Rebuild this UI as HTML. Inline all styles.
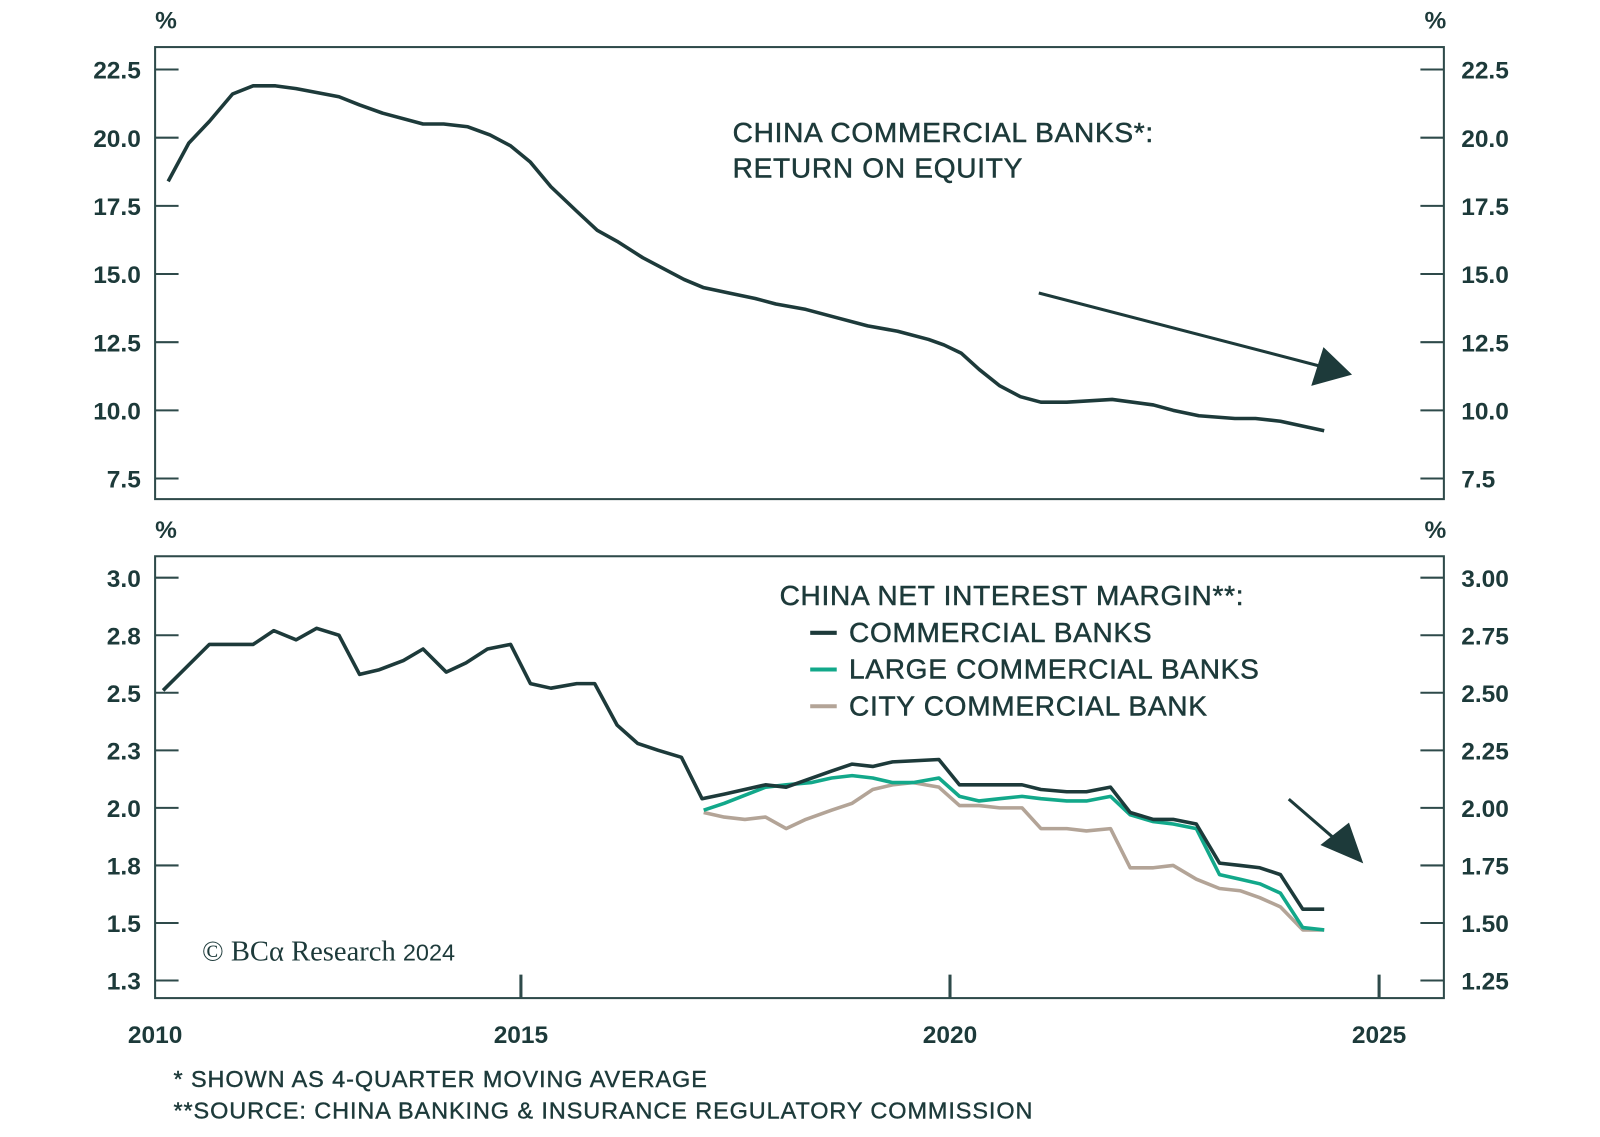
<!DOCTYPE html>
<html><head><meta charset="utf-8"><style>
html,body{margin:0;padding:0;background:#fff;}
svg{display:block;}
text{font-family:"Liberation Sans",sans-serif;fill:#1d3a3a;}
.tk{font-size:24px;font-weight:bold;}
.ann{font-size:27.5px;letter-spacing:0.7px;stroke:#1d3a3a;stroke-width:0.5px;}
.fn{font-size:23px;letter-spacing:0.9px;stroke:#1d3a3a;stroke-width:0.4px;}
</style></head><body>
<svg id="chart" width="1600" height="1137" viewBox="0 0 1568 1114" xmlns="http://www.w3.org/2000/svg">
<g id="static">
<text x="152" y="28" class="tk">%</text>
<text x="1396" y="28" class="tk">%</text>
<text x="152" y="527" class="tk">%</text>
<text x="1396" y="527" class="tk">%</text>
<rect x="152" y="46" width="1263" height="443" fill="none" stroke="#2e4a4a" stroke-width="2"/>
<rect x="152" y="545" width="1263" height="433" fill="none" stroke="#2e4a4a" stroke-width="2"/>
<text x="718" y="139" class="ann">CHINA COMMERCIAL BANKS*:</text>
<text x="718" y="174" class="ann">RETURN ON EQUITY</text>
<text x="764" y="593" class="ann">CHINA NET INTEREST MARGIN**:</text>
<line x1="794" y1="620" x2="820" y2="620" stroke="#1d3a3a" stroke-width="4"/>
<text x="832" y="629" class="ann">COMMERCIAL BANKS</text>
<line x1="794" y1="656" x2="820" y2="656" stroke="#12a88a" stroke-width="4"/>
<text x="832" y="665" class="ann">LARGE COMMERCIAL BANKS</text>
<line x1="794" y1="692" x2="820" y2="692" stroke="#b3a497" stroke-width="4"/>
<text x="832" y="701" class="ann">CITY COMMERCIAL BANK</text>
<g>
<line x1="1018" y1="287" x2="1295" y2="359" stroke="#1d3a3a" stroke-width="3"/>
<polygon points="1325,367 1285,378 1297,340" fill="#1d3a3a"/>
</g>
<g>
<line x1="1263" y1="783" x2="1315" y2="828" stroke="#1d3a3a" stroke-width="3"/>
<polygon points="1336,846 1294,828 1322,806" fill="#1d3a3a"/>
</g>
<text x="198" y="941" style="font-family:'Liberation Serif',serif;font-size:28px;">© BCα Research <tspan style="font-family:'Liberation Sans',sans-serif;font-size:23px;">2024</tspan></text>
<text x="170" y="1065" class="fn">* SHOWN AS 4-QUARTER MOVING AVERAGE</text>
<text x="170" y="1096" class="fn">**SOURCE: CHINA BANKING &amp; INSURANCE REGULATORY COMMISSION</text>
</g>
<g id="dyn"></g>
</svg>
<script>
const roeTicks=[22.5,20.0,17.5,15.0,12.5,10.0,7.5];
const nimLeftTicks=[3.0,2.75,2.5,2.25,2.0,1.75,1.5,1.25];
const nimLeftLabels=["3.0","2.8","2.5","2.3","2.0","1.8","1.5","1.3"];
const nimRightLabels=["3.00","2.75","2.50","2.25","2.00","1.75","1.50","1.25"];
const yearTicks=[2015,2020,2025];
const yearLabels=["2010","2015","2020","2025"];
const roeTimes=[2010.89,2011.13,2011.37,2011.64,2011.88,2012.14,2012.38,2012.88,2013.12,2013.39,2013.86,2014.10,2014.38,2014.64,2014.88,2015.11,2015.35,2015.65,2015.89,2016.12,2016.42,2016.66,2016.90,2017.13,2017.43,2017.73,2017.97,2018.32,2018.68,2019.04,2019.39,2019.75,2019.93,2020.13,2020.34,2020.58,2020.82,2021.06,2021.36,2021.89,2022.37,2022.60,2022.90,2023.32,2023.56,2023.85,2024.36];
const roeValues=[18.4,19.8,20.6,21.6,21.9,21.9,21.8,21.5,21.2,20.9,20.5,20.5,20.4,20.1,19.7,19.1,18.2,17.3,16.6,16.2,15.6,15.2,14.8,14.5,14.3,14.1,13.9,13.7,13.4,13.1,12.9,12.6,12.4,12.1,11.5,10.9,10.5,10.3,10.3,10.4,10.2,10.0,9.8,9.7,9.7,9.6,9.25];
const commTimes=[2010.83,2011.37,2011.88,2012.12,2012.38,2012.62,2012.88,2013.12,2013.35,2013.63,2013.86,2014.13,2014.36,2014.61,2014.88,2015.11,2015.35,2015.65,2015.86,2016.12,2016.36,2016.60,2016.87,2017.11,2017.37,2017.85,2018.09,2018.32,2018.62,2018.86,2019.10,2019.33,2019.87,2020.11,2020.34,2020.58,2020.84,2021.06,2021.36,2021.59,2021.87,2022.10,2022.37,2022.60,2022.87,2023.14,2023.38,2023.61,2023.85,2024.11,2024.36];
const commValues=[2.51,2.71,2.71,2.77,2.73,2.78,2.75,2.58,2.60,2.64,2.69,2.59,2.63,2.69,2.71,2.54,2.52,2.54,2.54,2.36,2.28,2.25,2.22,2.04,2.06,2.10,2.09,2.12,2.16,2.19,2.18,2.20,2.21,2.10,2.10,2.10,2.10,2.08,2.07,2.07,2.09,1.98,1.95,1.95,1.93,1.76,1.75,1.74,1.71,1.56,1.56];
const largeTimes=[2017.13,2017.37,2017.85,2018.09,2018.38,2018.62,2018.86,2019.10,2019.33,2019.57,2019.87,2020.11,2020.34,2020.58,2020.84,2021.06,2021.36,2021.59,2021.87,2022.10,2022.37,2022.60,2022.87,2023.14,2023.38,2023.61,2023.85,2024.11,2024.36];
const largeValues=[1.99,2.02,2.09,2.10,2.11,2.13,2.14,2.13,2.11,2.11,2.13,2.05,2.03,2.04,2.05,2.04,2.03,2.03,2.05,1.97,1.94,1.93,1.91,1.71,1.69,1.67,1.63,1.48,1.47];
const cityTimes=[2017.13,2017.37,2017.61,2017.85,2018.09,2018.32,2018.62,2018.86,2019.10,2019.33,2019.57,2019.87,2020.11,2020.34,2020.58,2020.84,2021.06,2021.36,2021.59,2021.87,2022.10,2022.37,2022.60,2022.87,2023.14,2023.38,2023.61,2023.85,2024.11,2024.36];
const cityValues=[1.98,1.96,1.95,1.96,1.91,1.95,1.99,2.02,2.08,2.10,2.11,2.09,2.01,2.01,2.00,2.00,1.91,1.91,1.90,1.91,1.74,1.74,1.75,1.69,1.65,1.64,1.61,1.57,1.47,1.47];

const NS="http://www.w3.org/2000/svg";
const dyn=document.getElementById('dyn');
function xS(t){return 931+(t-2020)*84.1;}
function yRoe(v){return 68+(22.5-v)*26.72;}
function yNim(v){return 566+(3.0-v)*225.6;}
function mk(tag,attrs){const e=document.createElementNS(NS,tag);for(const k in attrs)e.setAttribute(k,attrs[k]);dyn.appendChild(e);return e;}
roeTicks.forEach(v=>{
  const y=yRoe(v);
  let l=mk('line',{x1:152,y1:y,x2:175,y2:y,stroke:'#2e4a4a','stroke-width':2});
  
  
  let r=mk('line',{x1:1392,y1:y,x2:1415,y2:y,stroke:'#2e4a4a','stroke-width':2});
  
  
  let t=mk('text',{x:138,y:y+9,'text-anchor':'end',class:'tk'});t.textContent=v.toFixed(1);
  
  
  let t2=mk('text',{x:1432,y:y+9,class:'tk'});t2.textContent=v.toFixed(1);
  
  
});
nimLeftTicks.forEach((v,i)=>{
  const y=yNim(v);
  let l=mk('line',{x1:152,y1:y,x2:175,y2:y,stroke:'#2e4a4a','stroke-width':2});
  
  
  let r=mk('line',{x1:1392,y1:y,x2:1415,y2:y,stroke:'#2e4a4a','stroke-width':2});
  
  
  let t=mk('text',{x:138,y:y+9,'text-anchor':'end',class:'tk'});t.textContent=nimLeftLabels[i];
  
  
  let t2=mk('text',{x:1432,y:y+9,class:'tk'});t2.textContent=nimRightLabels[i];
  
  
});
yearTicks.forEach(yr=>{
  const x=xS(yr);
  let l=mk('line',{x1:x,y1:955,x2:x,y2:978,stroke:'#2e4a4a','stroke-width':3});
  
  
});
yearLabels.forEach((s,i)=>{
  const x=i===0?152:xS(yearTicks[i-1]);
  let t=mk('text',{x:x,y:1022,'text-anchor':'middle',class:'tk'});t.textContent=s;
  
  
});
function line(ts,vs,yf,color,name){
  const d=ts.map((t,i)=>(i?'L':'M')+xS(t).toFixed(1)+' '+yf(vs[i]).toFixed(1)).join(' ');
  const p=mk('path',{d:d,fill:'none',stroke:color,'stroke-width':3.5,'stroke-linejoin':'round'});
  
  
}
line(roeTimes,roeValues,yRoe,'#1d3a3a','roe-line');
line(cityTimes,cityValues,yNim,'#b3a497','city-banks-line');
line(largeTimes,largeValues,yNim,'#12a88a','large-banks-line');
line(commTimes,commValues,yNim,'#1d3a3a','commercial-banks-line');
</script>
</body></html>
